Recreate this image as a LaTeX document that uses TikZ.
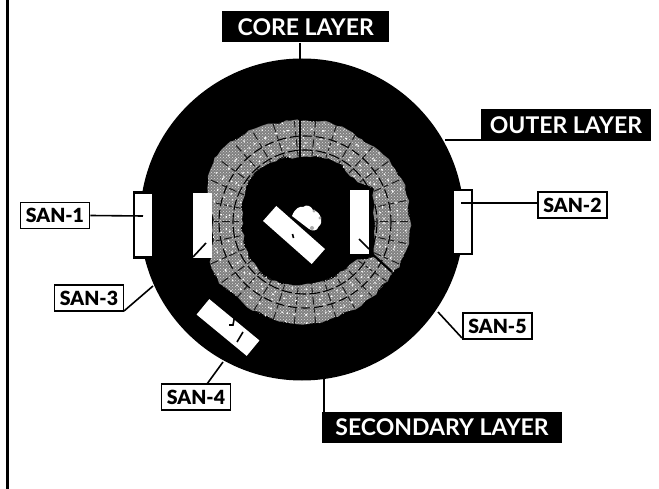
\documentclass[tikz,border=0pt]{standalone}
\usepackage{fontspec}
\setmainfont{Lato}
\newfontfamily\heavyfont{Lato Black}
\usetikzlibrary{patterns,decorations.pathmorphing}
\tikzset{
  darklabel/.style={fill=black,text=white,inner sep=0pt,font=\fontsize{23}{23}\selectfont\bfseries,anchor=center},
  sanbox/.style={draw=black,line width=1.8pt,fill=white,text=black,inner sep=0pt,minimum width=69pt,minimum height=26pt,font=\fontsize{19.5}{19.5}\heavyfont},
  slot/.style={fill=white,inner sep=0pt,minimum width=19pt,minimum height=65pt},
  bordered/.style={draw=black,line width=2.6pt,slot},
  lead/.style={line width=1.6pt,draw=black},
  tick/.style={line width=1.6pt,draw=black}
}
\def\ringouter{(300,121) .. controls (325,120) and (347,126) .. (364,142) .. controls (387,155) and (400,172) .. (405,190) .. controls (411,210) and (411,235) .. (406,250) .. controls (402,262) and (397,268) .. (390,276) .. controls (377,298) and (350,313) .. (320,323) .. controls (305,325) and (290,325) .. (275,320) .. controls (262,316) and (250,309) .. (238,297) .. controls (223,289) and (212,276) .. (210,262) .. controls (214,245) and (214,225) .. (212,205) .. controls (205,185) and (207,175) .. (217,156) .. controls (230,138) and (260,122) .. (300,121) -- cycle}
\def\ringinner{(300,157) .. controls (320,156) and (335,158) .. (342,166) .. controls (350,179) and (362,183) .. (374,189) -- (374,257) .. controls (365,258) and (358,260) .. (350,265) .. controls (335,278) and (315,286) .. (293,285) .. controls (275,283) and (265,278) .. (258,268) .. controls (247,258) and (242,240) .. (242,220) .. controls (241,200) and (245,185) .. (255,173) .. controls (265,163) and (280,157) .. (300,157) -- cycle}
\begin{document}
\begin{tikzpicture}[x=1pt,y=-1pt]
\useasboundingbox (0,0) rectangle (659,489);
\draw[line width=2.6pt] (7.5,0) -- (7.5,489);
% outer disc
\node[circle,fill=black,inner sep=0pt,minimum size=322pt,xscale=1.006] (disc) at (302,219.5) {};
% ring
\begin{scope}[even odd rule]
  \pgfmathsetseed{7}
  \fill[black!50,decorate,decoration={random steps,segment length=6pt,amplitude=1.6pt}] \ringouter \ringinner;
  \begin{scope}
    \clip \ringouter \ringinner;
    \fill[pattern=crosshatch dots,pattern color=black!12] (200,110) rectangle (420,330);
    \draw[black,line width=1.1pt,dash pattern=on 11pt off 3pt] (305,222) circle[radius=72];
    \draw[black,line width=1.1pt,dash pattern=on 9pt off 4pt] (305,222) circle[radius=86];
    \foreach \a in {0,12,...,348}{
      \draw[black!90,line width=1pt,dash pattern=on 8pt off 3pt on 5pt off 4pt] (305,222) ++(\a:55) -- ++(\a:50);
      \draw[white,line width=1.2pt,dash pattern=on 1.5pt off 7pt] (305,222) ++(\a+5:58) -- ++(\a+5:45);
    }
    \foreach \rr in {79,93}{
      \draw[white,line width=1.2pt,dash pattern=on 2pt off 10pt] (305,222) circle[radius=\rr];
    }
  \end{scope}
\end{scope}
\draw[black,line width=2pt] (300,120) -- (300,158);
\draw[black,line width=2.2pt] (370,252) -- (392,272);
% white blob
\fill[white] (292,216) .. controls (295,208) and (300,206) .. (303,207) .. controls (307,204) and (311,206) .. (313,210) .. controls (322,212) and (323,224) .. (319,226) .. controls (317,232) and (312,231) .. (309,229) -- cycle;
\fill[gray!65] (314,211) circle[radius=1.6] (320,218) circle[radius=1.6] (312,228) circle[radius=2];
% slots
\node[bordered] (slotA) at (143.5,225) {};
\node[slot,minimum height=65pt] (slotB) at (202.5,225.5) {};
\node[slot,minimum height=64pt] (slotC) at (359.5,222) {};
\node[bordered,minimum height=64pt] (slotD) at (462.5,222) {};
\node[slot,minimum width=65pt,minimum height=20pt,rotate=-41.5] (slotE) at (294,235) {};
\node[slot,minimum width=65pt,minimum height=20pt,rotate=-39.5] (slotF) at (228,327.5) {};
\draw[tick] (193,257) -- (206,243);
\draw[tick] (359,239) -- (369,249);
\draw[tick] (292.5,234) -- (293.5,238);
\draw[tick] (234.5,317) -- (233,325) -- (229,325);
\draw[tick] (243,332) -- (237,342);
% labels
\node[darklabel,minimum width=167.5pt,minimum height=31pt] (core) at (305.7,27) {CORE LAYER};
\node[darklabel,minimum width=170pt,minimum height=32pt] (outer) at (566,125) {OUTER LAYER};
\node[darklabel,minimum width=240pt,minimum height=31pt] (secondary) at (442,427.5) {SECONDARY LAYER};
\node[sanbox] (s1) at (55,215.5) {SAN-1};
\node[sanbox] (s2) at (572.5,205) {SAN-2};
\node[sanbox] (s3) at (89,298) {SAN-3};
\node[sanbox] (s4) at (196,397) {SAN-4};
\node[sanbox] (s5) at (497.5,326) {SAN-5};
\coordinate (e1) at (143,216);
\coordinate (e2) at (461,203);
\coordinate (e2b) at (537.5,203);
\coordinate (e3) at (153,286);
\coordinate (e3b) at (124,311);
\coordinate (e4) at (223,362);
\coordinate (e4b) at (207,384);
\coordinate (e5) at (438,312);
\coordinate (e5b) at (462,338);
\coordinate (ec) at (300,60);
\coordinate (eo) at (445,140);
\coordinate (eob) at (481,140);
\coordinate (es) at (324,379);
\coordinate (esb) at (324,412);
% leaders
\draw[lead] (s1.east) -- (e1);
\draw[lead] (e2b) -- (e2);
\draw[lead] (e3b) -- (e3);
\draw[lead] (e4b) -- (e4);
\draw[lead] (e5b) -- (e5);
\draw[lead,line width=2pt] (core.south -| ec) -- (ec);
\draw[lead] (eob) -- (eo);
\draw[lead] (esb) -- (es);
\end{tikzpicture}
\end{document}
